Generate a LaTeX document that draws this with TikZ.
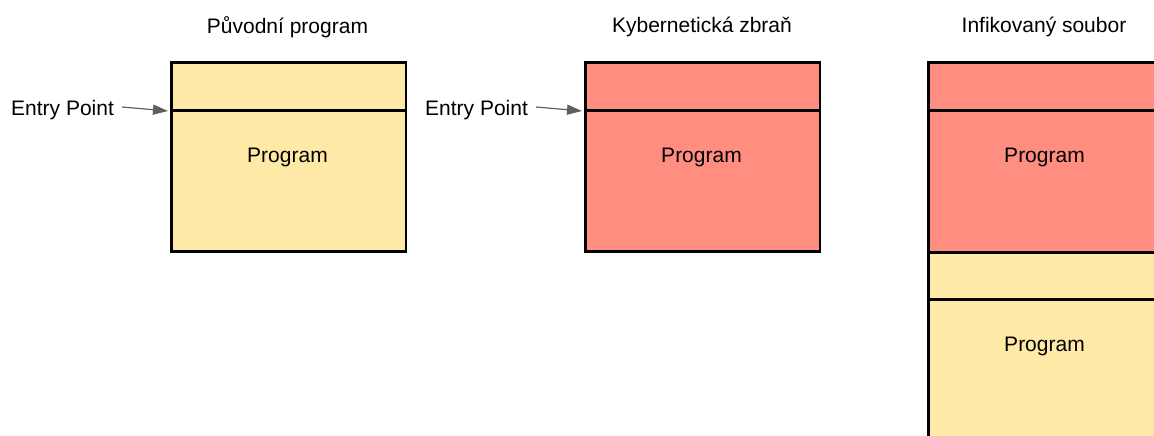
\documentclass[tikz,border=0pt]{standalone}
\usepackage{fontspec}
\setmainfont{Liberation Sans}
\usetikzlibrary{arrows.meta}
\definecolor{paleyellow}{HTML}{FFE9A6}
\definecolor{salmon}{HTML}{FF8E80}
\definecolor{arrowgrey}{HTML}{5F5F5F}
\tikzset{
  seg/.style={draw=black, line width=2.6pt, rectangle, inner sep=0pt,
    anchor=north west, minimum width=234.5pt},
  lbl/.style={font=\fontsize{21}{25}\selectfont, inner sep=0pt},
  entry/.style={draw=arrowgrey, line width=1.2pt,
    -{Triangle[length=15pt,width=10pt]}}
}
\begin{document}
\begin{tikzpicture}[x=1pt,y=-1pt]
\useasboundingbox (0,0) rectangle (1154,436);
\clip (0,0) rectangle (1154,436);

% original program
\node[lbl] (t1) at (287.5,27) {Původní program};
\node[seg, fill=paleyellow, minimum height=141pt] (b1) at (170.3,109) {};
\node[seg, fill=paleyellow, minimum height=47.7pt] (h1) at (170.3,61.3) {};
\node[lbl] (p1) at (287.5,157) {Program};
\node[lbl, anchor=west] (e1) at (11,110) {Entry Point};
\coordinate (d1) at (168,111);
\draw[entry] (122,107) -- (d1);

% cyber weapon
\node[lbl] (t2) at (702,27) {Kybernetická zbraň};
\node[seg, fill=salmon, minimum height=141pt] (b2) at (584.3,109) {};
\node[seg, fill=salmon, minimum height=47.7pt] (h2) at (584.3,61.3) {};
\node[lbl] (p2) at (701.5,157) {Program};
\node[lbl, anchor=west] (e2) at (425,110) {Entry Point};
\coordinate (d2) at (582,111);
\draw[entry] (536,107) -- (d2);

% infected file
\node[lbl] (t3) at (1044,27) {Infikovaný soubor};
\node[seg, fill=paleyellow, minimum height=160pt] (b4) at (927.3,298) {};
\node[seg, fill=paleyellow, minimum height=47pt] (h4) at (927.3,251) {};
\node[seg, fill=salmon, minimum height=142pt] (b3) at (927.3,109) {};
\node[seg, fill=salmon, minimum height=47.7pt] (h3) at (927.3,61.3) {};
\node[lbl] (p3) at (1044.5,157) {Program};
\node[lbl] (p4) at (1044.5,346) {Program};
\end{tikzpicture}
\end{document}
